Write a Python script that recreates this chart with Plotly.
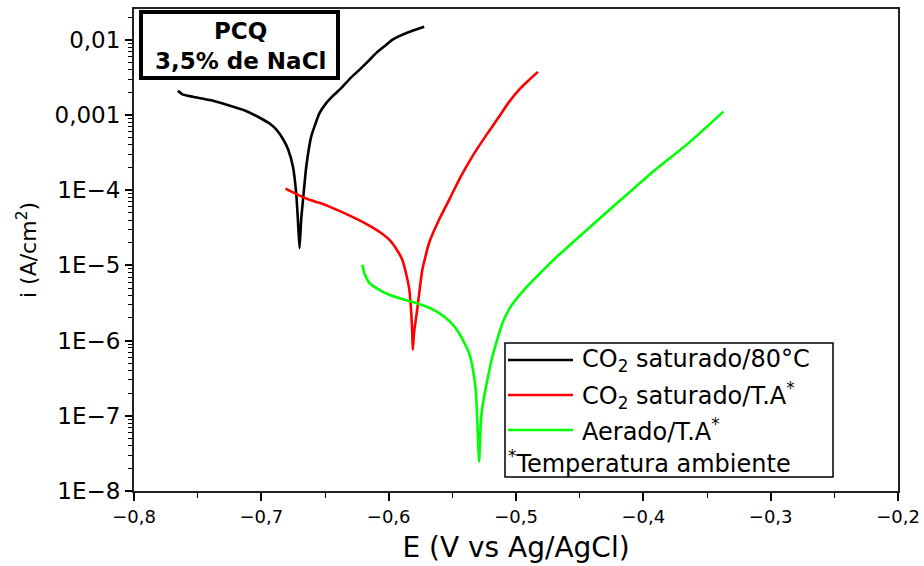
import plotly.graph_objects as go

# ---------------- data ----------------
E_co2_80 = [-0.7655, -0.7620, -0.7538, -0.7400, -0.7272, -0.7130, -0.7013, -0.6930, -0.6880, -0.6830,
            -0.6790, -0.6752, -0.6726, -0.6713, -0.6700, -0.6687, -0.6668, -0.6647, -0.6608, -0.6543,
            -0.6489, -0.6430, -0.6363, -0.6300, -0.6230, -0.6160, -0.6097, -0.6030, -0.5972, -0.5850, -0.5721]
i_co2_80 = [2.10e-3, 1.88e-3, 1.75e-3, 1.58e-3, 1.37e-3, 1.15e-3, 9.2e-4, 7.6e-4, 6.35e-4, 4.8e-4,
            3.5e-4, 2.07e-4, 9.1e-5, 4.1e-5, 1.7e-5, 4.1e-5, 9.1e-5, 2.07e-4, 5.2e-4, 1.06e-3,
            1.45e-3, 1.85e-3, 2.37e-3, 3.1e-3, 3.99e-3, 5.2e-3, 6.7e-3, 8.3e-3, 1.0e-2, 1.25e-2, 1.49e-2]

E_co2_ta = [-0.6810, -0.6720, -0.6622, -0.6543, -0.6420, -0.6285, -0.6180, -0.6073, -0.5990, -0.5940,
            -0.5893, -0.5865, -0.5838, -0.5823, -0.5815, -0.5811, -0.5800, -0.5776, -0.5755, -0.5736,
            -0.5682, -0.5600, -0.5525, -0.5440, -0.5345, -0.5240, -0.5134, -0.5060, -0.4977, -0.4900, -0.4828]
i_co2_ta = [1.05e-4, 8.8e-5, 7.45e-5, 6.8e-5, 5.6e-5, 4.43e-5, 3.6e-5, 2.8e-5, 2.15e-5, 1.65e-5,
            1.19e-5, 8.0e-6, 4.8e-6, 2.4e-6, 1.3e-6, 7.55e-7, 1.3e-6, 2.57e-6, 5.0e-6, 8.7e-6,
            2.0e-5, 4.2e-5, 7.45e-5, 1.45e-4, 2.78e-4, 5.2e-4, 9.46e-4, 1.45e-3, 2.16e-3, 2.9e-3, 3.75e-3]

E_aer_ta = [-0.6207, -0.6190, -0.6152, -0.6080, -0.5995, -0.5900, -0.5815, -0.5682, -0.5603, -0.5520,
            -0.5447, -0.5368, -0.5342, -0.5316, -0.5303, -0.5290, -0.5277, -0.5264, -0.5225, -0.5186,
            -0.5107, -0.5042, -0.4937, -0.4820, -0.4689, -0.4500, -0.4297, -0.4100, -0.3906, -0.3645, -0.3371]
i_aer_ta = [1.02e-5, 7.8e-6, 5.87e-6, 4.8e-6, 4.07e-6, 3.6e-6, 3.28e-6, 2.73e-6, 2.32e-6, 1.8e-6,
            1.26e-6, 6.8e-7, 4.5e-7, 2.2e-7, 7.9e-8, 2.46e-8, 7.9e-8, 1.32e-7, 2.99e-7, 6.1e-7,
            1.7e-6, 2.83e-6, 4.74e-6, 7.6e-6, 1.26e-5, 2.44e-5, 4.95e-5, 9.7e-5, 1.87e-4, 4.23e-4, 1.11e-3]

series_names = ["CO<sub>2</sub> saturado/80°C", "CO<sub>2</sub> saturado/T.A<sup>*</sup>", "Aerado/T.A<sup>*</sup>"]
series_colors = ["#000000", "#FF0000", "#00FF00"]
footnote = "<sup>*</sup>Temperatura ambiente"

x_tickvals = [-0.8, -0.7, -0.6, -0.5, -0.4, -0.3, -0.2]
x_ticktext = ["−0,8", "−0,7", "−0,6", "−0,5", "−0,4", "−0,3", "−0,2"]
y_tickvals = [1e-8, 1e-7, 1e-6, 1e-5, 1e-4, 1e-3, 1e-2]
y_ticktext = ["1E−8", "1E−7", "1E−6", "1E−5", "1E−4", "0,001", "0,01"]

# ---------------- layout geometry ----------------
W, H = 924, 566
ML, MR, MT, MB = 134, 26, 9, 75
PW, PH = W - ML - MR, H - MT - MB

def px(x):
    return (x - ML) / PW

def py(y):
    return (H - MB - y) / PH

FONT = "DejaVu Sans"

fig = go.Figure()
for E, I, name, col in zip([E_co2_80, E_co2_ta, E_aer_ta], [i_co2_80, i_co2_ta, i_aer_ta],
                           series_names, series_colors):
    fig.add_trace(go.Scatter(x=E, y=I, mode="lines", name=name, showlegend=False,
                             line=dict(color=col, width=2.6, shape="spline", smoothing=0.5)))

minor_y = [m * 10 ** e for e in range(-8, -1) for m in range(2, 10)]

fig.update_layout(
    width=W, height=H,
    margin=dict(l=ML, r=MR, t=MT, b=MB),
    paper_bgcolor="white", plot_bgcolor="white",
    font=dict(family=FONT, color="black"),
    xaxis=dict(range=[-0.8, -0.2], tickmode="array", tickvals=x_tickvals, ticktext=x_ticktext,
               ticks="outside", ticklen=8, tickwidth=1.5, tickcolor="black",
               minor=dict(tickmode="array", tickvals=[-0.75, -0.65, -0.55, -0.45, -0.35, -0.25],
                          ticks="outside", ticklen=5, tickwidth=1.2, tickcolor="black"),
               showline=True, linecolor="#222222", linewidth=2, mirror=True,
               showgrid=False, zeroline=False, ticklabeloverflow="allow", automargin=False,
               tickfont=dict(size=18, family=FONT),
               title=dict(text="E (V vs Ag/AgCl)", font=dict(size=28, family=FONT), standoff=12)),
    yaxis=dict(type="log", range=[-8, -1.59], tickmode="array", tickvals=y_tickvals, ticktext=y_ticktext,
               ticks="outside", ticklen=7, tickwidth=1.5, tickcolor="black",
               minor=dict(tickmode="array", tickvals=minor_y,
                          ticks="outside", ticklen=4, tickwidth=1, tickcolor="black"),
               showline=True, linecolor="#222222", linewidth=2, mirror=True,
               showgrid=False, zeroline=False, ticklabeloverflow="allow", automargin=False,
               tickfont=dict(size=23, family=FONT),
               title=dict(text="i (A/cm<sup>2</sup>)", font=dict(size=22, family=FONT), standoff=12)),
)

shapes = []
annotations = []

# title box
shapes.append(dict(type="rect", xref="paper", yref="paper", x0=px(141), x1=px(338), y0=py(78), y1=py(12),
                   line=dict(color="black", width=4), fillcolor="white"))
annotations.append(dict(xref="paper", yref="paper", x=px(240), y=py(31), text="<b>PCQ</b>", showarrow=False,
                        xanchor="center", yanchor="middle", font=dict(size=23, family=FONT, color="black")))
annotations.append(dict(xref="paper", yref="paper", x=px(240), y=py(61), text="<b>3,5% de NaCl</b>", showarrow=False,
                        xanchor="center", yanchor="middle", font=dict(size=23, family=FONT, color="black")))

# custom legend
shapes.append(dict(type="rect", xref="paper", yref="paper", x0=px(505), x1=px(833), y0=py(477), y1=py(343),
                   line=dict(color="black", width=1.5), fillcolor="white"))
legend_rows = [360, 395, 430]
for name, col, yy in zip(series_names, series_colors, legend_rows):
    shapes.append(dict(type="line", xref="paper", yref="paper", x0=px(508), x1=px(573), y0=py(yy), y1=py(yy),
                       line=dict(color=col, width=2.6)))
    annotations.append(dict(xref="paper", yref="paper", x=px(580), y=py(yy), text=name, showarrow=False,
                            xanchor="left", yanchor="middle", font=dict(size=24, family=FONT, color="black")))
annotations.append(dict(xref="paper", yref="paper", x=px(506), y=py(462), text=footnote, showarrow=False,
                        xanchor="left", yanchor="middle", font=dict(size=24, family=FONT, color="black")))

fig.update_layout(shapes=shapes, annotations=annotations)
fig.write_html("out.html")
